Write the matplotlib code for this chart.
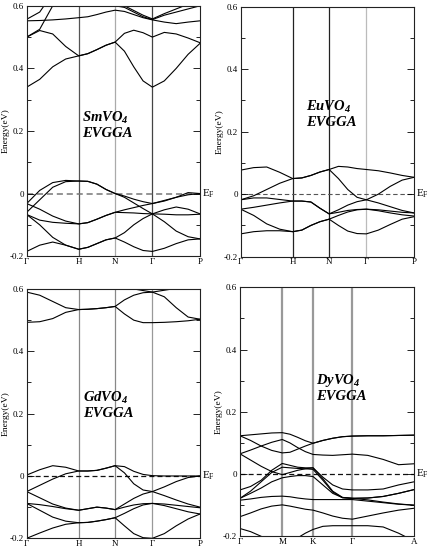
import numpy as np
import matplotlib
matplotlib.use("Agg")
import matplotlib.pyplot as plt
import matplotlib.transforms as mtransforms

plt.rcParams['font.family'] = ['Liberation Serif', 'DejaVu Serif']

# ---- data -------------------------------------------------------------
# bands are sampled at 0, 1/4, 1/2, 3/4 of every path segment plus the end point
bcc_labels = ['Γ', 'H', 'N', 'Γ', 'P']
bcc_kpos = [0.0, 0.30, 0.51, 0.725, 1.0]
hex_labels = ['Γ', 'M', 'K', 'Γ', 'A']
hex_kpos = [0.0, 0.243, 0.42, 0.646, 1.0]

sm_bands = [
    [0.34, 0.365, 0.405, 0.43, 0.44, 0.447, 0.46, 0.474, 0.484, 0.455, 0.405, 0.36, 0.34, 0.36, 0.40, 0.445, 0.48],
    [0.50, 0.521, 0.51, 0.47, 0.44, 0.447, 0.46, 0.474, 0.484, 0.512, 0.522, 0.514, 0.50, 0.515, 0.51, 0.497, 0.482],
    [0.552, 0.553, 0.555, 0.558, 0.562, 0.565, 0.572, 0.58, 0.586, 0.582, 0.572, 0.562, 0.555, 0.548, 0.543, 0.548, 0.552],
    [0.557, 0.58, 0.64, 0.70, 0.70, 0.68, 0.66, 0.63, 0.60, 0.595, 0.58, 0.565, 0.556, 0.57, 0.58, 0.59, 0.60],
    [0.50, 0.525, 0.60, 0.66, 0.70, 0.70, 0.68, 0.65, 0.62, 0.60, 0.585, 0.57, 0.558, 0.575, 0.59, 0.605, 0.62],
    [-0.032, 0.01, 0.035, 0.042, 0.04, 0.039, 0.03, 0.013, 0.0, -0.012, -0.03, -0.048, -0.065, -0.066, -0.068, -0.068, -0.066],
    [-0.06, -0.02, 0.02, 0.038, 0.04, 0.039, 0.03, 0.013, 0.0, -0.008, -0.018, -0.026, -0.032, -0.024, -0.012, 0.003, 0.0],
    [-0.032, -0.05, -0.072, -0.088, -0.097, -0.093, -0.082, -0.07, -0.06, -0.052, -0.045, -0.038, -0.032, -0.022, -0.012, -0.004, 0.0],
    [-0.067, -0.085, -0.092, -0.095, -0.097, -0.093, -0.082, -0.07, -0.06, -0.061, -0.062, -0.064, -0.065, -0.052, -0.043, -0.05, -0.065],
    [-0.067, -0.10, -0.14, -0.165, -0.178, -0.172, -0.16, -0.148, -0.142, -0.125, -0.10, -0.08, -0.065, -0.09, -0.12, -0.138, -0.145],
    [-0.185, -0.165, -0.155, -0.165, -0.178, -0.172, -0.16, -0.148, -0.142, -0.155, -0.17, -0.182, -0.185, -0.175, -0.16, -0.148, -0.145],
]

eu_bands = [
    [0.077, 0.085, 0.087, 0.07, 0.05, 0.052, 0.06, 0.071, 0.079, 0.089, 0.087, 0.082, 0.079, 0.075, 0.068, 0.06, 0.054],
    [-0.018, -0.005, 0.015, 0.035, 0.05, 0.052, 0.06, 0.071, 0.079, 0.05, 0.015, -0.01, -0.018, 0.0, 0.025, 0.045, 0.054],
    [-0.018, -0.012, -0.012, -0.017, -0.022, -0.022, -0.025, -0.045, -0.063, -0.058, -0.052, -0.049, -0.048, -0.05, -0.054, -0.058, -0.06],
    [-0.048, -0.042, -0.035, -0.028, -0.022, -0.022, -0.025, -0.045, -0.063, -0.05, -0.035, -0.024, -0.018, -0.028, -0.04, -0.052, -0.06],
    [-0.048, -0.068, -0.095, -0.112, -0.12, -0.115, -0.10, -0.088, -0.08, -0.068, -0.057, -0.05, -0.048, -0.053, -0.06, -0.066, -0.07],
    [-0.127, -0.12, -0.117, -0.117, -0.12, -0.115, -0.10, -0.088, -0.08, -0.10, -0.118, -0.126, -0.127, -0.115, -0.097, -0.08, -0.072],
]

gd_bands = [
    [0.59, 0.58, 0.56, 0.54, 0.534, 0.535, 0.537, 0.54, 0.544, 0.565, 0.58, 0.588, 0.59, 0.596, 0.602, 0.61, 0.62],
    [0.493, 0.495, 0.505, 0.525, 0.534, 0.535, 0.537, 0.54, 0.544, 0.52, 0.50, 0.492, 0.492, 0.493, 0.495, 0.498, 0.503],
    [0.62, 0.63, 0.64, 0.65, 0.65, 0.65, 0.64, 0.63, 0.62, 0.61, 0.60, 0.595, 0.59, 0.575, 0.54, 0.51, 0.503],
    [0.003, 0.02, 0.033, 0.028, 0.016, 0.016, 0.018, 0.025, 0.033, 0.03, 0.015, 0.005, 0.001, 0.0, 0.0, 0.0, 0.0],
    [-0.05, -0.03, -0.01, 0.007, 0.016, 0.016, 0.018, 0.025, 0.033, 0.01, -0.025, -0.045, -0.05, -0.063, -0.077, -0.09, -0.10],
    [-0.05, -0.07, -0.09, -0.103, -0.11, -0.105, -0.10, -0.103, -0.108, -0.09, -0.072, -0.058, -0.05, -0.035, -0.018, -0.005, 0.0],
    [-0.088, -0.092, -0.098, -0.105, -0.11, -0.105, -0.10, -0.103, -0.108, -0.10, -0.093, -0.089, -0.088, -0.09, -0.094, -0.098, -0.102],
    [-0.088, -0.11, -0.132, -0.145, -0.15, -0.149, -0.145, -0.14, -0.134, -0.12, -0.105, -0.093, -0.088, -0.095, -0.105, -0.115, -0.122],
    [-0.20, -0.183, -0.167, -0.155, -0.15, -0.149, -0.145, -0.14, -0.134, -0.16, -0.185, -0.198, -0.20, -0.185, -0.16, -0.138, -0.122],
]

dy_bands = [
    [0.123, 0.126, 0.129, 0.132, 0.133, 0.128, 0.118, 0.107, 0.099, 0.108, 0.115, 0.12, 0.122, 0.123, 0.123, 0.124, 0.125],
    [0.123, 0.108, 0.09, 0.076, 0.068, 0.07, 0.08, 0.09, 0.099, 0.108, 0.115, 0.12, 0.122, 0.123, 0.123, 0.124, 0.125],
    [0.065, 0.077, 0.09, 0.102, 0.111, 0.10, 0.085, 0.072, 0.063, 0.061, 0.06, 0.062, 0.064, 0.06, 0.047, 0.03, 0.033],
    [0.065, 0.045, 0.025, 0.008, -0.002, 0.005, 0.012, 0.017, 0.02, -0.01, -0.035, -0.048, -0.051, -0.051, -0.048, -0.035, -0.025],
    [-0.051, -0.04, -0.02, 0.012, 0.034, 0.028, 0.022, 0.02, 0.02, -0.015, -0.055, -0.075, -0.078, -0.077, -0.072, -0.062, -0.05],
    [-0.078, -0.055, -0.025, 0.005, 0.022, 0.02, 0.018, 0.017, 0.015, -0.02, -0.058, -0.076, -0.078, -0.077, -0.072, -0.062, -0.05],
    [-0.078, -0.062, -0.045, -0.025, -0.012, -0.008, -0.005, -0.005, -0.008, -0.035, -0.062, -0.076, -0.078, -0.083, -0.09, -0.096, -0.10],
    [-0.084, -0.08, -0.075, -0.072, -0.071, -0.073, -0.077, -0.08, -0.082, -0.082, -0.082, -0.082, -0.082, -0.087, -0.092, -0.097, -0.10],
    [-0.137, -0.125, -0.112, -0.103, -0.099, -0.103, -0.108, -0.113, -0.116, -0.125, -0.135, -0.142, -0.145, -0.135, -0.125, -0.116, -0.11],
    [-0.175, -0.185, -0.20, -0.215, -0.225, -0.22, -0.205, -0.19, -0.178, -0.168, -0.166, -0.166, -0.166, -0.166, -0.17, -0.19, -0.215],
]

y_ticks = [-0.2, 0.0, 0.2, 0.4, 0.6]
y_ticklabels = ['-0.2', '0', '0.2', '0.4', '0.6']


def sample_k(kpos):
    pts = [kpos[0]]
    for a, b in zip(kpos[:-1], kpos[1:]):
        pts.extend(np.linspace(a, b, 5)[1:])
    return np.array(pts)


def draw_panel(ax, bands, kpos, klabels, name, vcolors, vlw, ef_color, ef_lw, txt_xy):
    k = sample_k(kpos)
    for kv, c in zip(kpos[1:-1], vcolors):
        ax.axvline(kv, color=c, lw=vlw, zorder=1)
    ax.axhline(0, color=ef_color, lw=ef_lw, ls=(0, (4, 2.5)), zorder=1)
    for b in bands:
        ax.plot(k, b, color='black', lw=0.8, zorder=2)
    ax.set_xlim(0, 1)
    ax.set_ylim(-0.2, 0.6)
    ax.set_xticks(kpos)
    ax.set_xticklabels(klabels, fontsize=6.5)
    ax.set_yticks(y_ticks)
    ax.set_yticklabels(y_ticklabels, fontsize=6.5)
    ax.set_yticks([-0.1, 0.1, 0.3, 0.5], minor=True)
    ax.tick_params(axis='y', which='both', direction='in', right=True, pad=2)
    ax.tick_params(axis='y', which='major', length=5, width=0.6)
    ax.tick_params(axis='y', which='minor', length=3, width=0.6)
    ax.tick_params(axis='x', length=0, pad=1)
    ax.set_ylabel('Energy(eV)', fontsize=6.8)
    ax.yaxis.set_label_coords(-0.1, 0.5)
    for s in ax.spines.values():
        s.set_linewidth(0.8)
        s.set_color('#222222')
    trans = mtransforms.blended_transform_factory(ax.transAxes, ax.transData)
    ax.text(1.012, 0.0, r'$\mathregular{E_F}$', transform=trans, fontsize=8,
            ha='left', va='center')
    ax.text(txt_xy[0], txt_xy[1], r'$\mathregular{%s}$' % name + '\n' + 'EVGGA',
            transform=ax.transAxes, fontsize=10.5, fontweight='bold', style='italic',
            ha='left', va='top', linespacing=1.1)


fig = plt.figure(figsize=(4.28, 5.58), dpi=100)
ax_sm = fig.add_axes([0.0624, 0.541, 0.405, 0.4486])
ax_eu = fig.add_axes([0.5624, 0.540, 0.405, 0.448])
ax_gd = fig.add_axes([0.0624, 0.0353, 0.405, 0.4468])
ax_dy = fig.add_axes([0.5607, 0.0389, 0.4065, 0.4462])

draw_panel(ax_sm, sm_bands, bcc_kpos, bcc_labels, 'SmVO_4',
           ['#555555', '#aaaaaa', '#444444'], 0.9, '#777777', 1.1, (0.32, 0.585))
draw_panel(ax_eu, eu_bands, bcc_kpos, bcc_labels, 'EuVO_4',
           ['#222222', '#222222', '#bbbbbb'], 0.9, '#555555', 0.8, (0.375, 0.63))
draw_panel(ax_gd, gd_bands, bcc_kpos, bcc_labels, 'GdVO_4',
           ['#888888', '#888888', '#999999'], 0.9, '#111111', 0.9, (0.325, 0.595))
draw_panel(ax_dy, dy_bands, hex_kpos, hex_labels, 'DyVO_4',
           ['#999999', '#999999', '#999999'], 1.6, '#111111', 0.9, (0.435, 0.66))

fig.savefig('out.png', dpi=100)
